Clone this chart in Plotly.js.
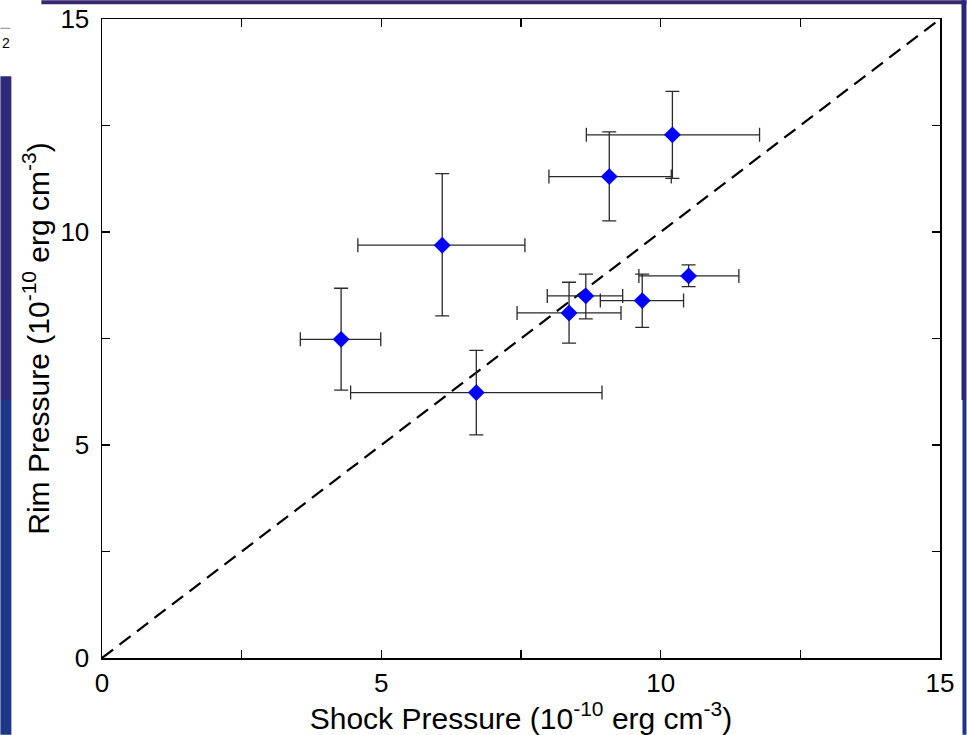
<!DOCTYPE html>
<html>
<head>
<meta charset="utf-8">
<script src="https://cdn.plot.ly/plotly-3.0.1.min.js"></script>
<style>html,body{margin:0;padding:0;background:#fff;}#chart{width:967px;height:735px;}</style>
</head>
<body>
<div id="chart"></div>
<script>
// Data
const shockPressure = [4.28, 6.09, 6.70, 8.36, 8.66, 9.67, 10.50, 9.08, 10.21];
const shockErrLow   = [3.55, 4.58, 4.45, 7.43, 7.97, 8.92, 9.61, 8.00, 8.67];
const shockErrHigh  = [4.99, 7.57, 8.95, 9.29, 9.32, 10.41, 11.40, 10.19, 11.77];
const rimPressure   = [7.48, 9.69, 6.23, 8.10, 8.50, 8.39, 8.97, 11.30, 12.28];
const rimErrLow     = [6.29, 8.03, 5.24, 7.39, 7.96, 7.76, 8.72, 10.26, 11.26];
const rimErrHigh    = [8.68, 11.37, 7.22, 8.82, 9.01, 9.01, 9.23, 12.35, 13.30];
const equalityLine  = [0, 15];
const tickValues    = [0, 5, 10, 15];
const tickLabels    = ['0', '5', '10', '15'];
const minorStep     = 2.5;

const plus  = (hi, v) => hi.map((h, i) => h - v[i]);
const minus = (lo, v) => lo.map((l, i) => v[i] - l);

const traces = [
  {
    x: equalityLine, y: equalityLine, mode: 'lines', type: 'scatter',
    line: {color: '#000', width: 2.2, dash: '14px,8px'}, hoverinfo: 'skip'
  },
  {
    x: shockPressure, y: rimPressure, mode: 'markers', type: 'scatter',
    marker: {symbol: 'diamond', size: 13, color: '#0000ff'},
    error_x: {type: 'data', symmetric: false,
      array: plus(shockErrHigh, shockPressure), arrayminus: minus(shockErrLow, shockPressure),
      color: '#2a2a2a', thickness: 1.3, width: 7},
    error_y: {type: 'data', symmetric: false,
      array: plus(rimErrHigh, rimPressure), arrayminus: minus(rimErrLow, rimPressure),
      color: '#2a2a2a', thickness: 1.3, width: 7}
  }
];

// pixel -> paper helpers for background decorations
const L = 101.7, R = 940.5, T = 18.7, B = 658.3;
const px = v => (v - L) / (R - L);
const py = v => (B - v) / (B - T);

const FONT = 'Liberation Sans, Arial, sans-serif';
const axisCommon = {
  range: [0, 15], tickmode: 'array', tickvals: tickValues, ticktext: tickLabels,
  ticks: 'inside', ticklen: 8, tickwidth: 1.2, tickcolor: '#000',
  minor: {dtick: minorStep, ticks: 'inside', ticklen: 8, tickwidth: 1.2, tickcolor: '#000', showgrid: false},
  showline: true, linecolor: '#000', linewidth: 1.5, mirror: 'ticks',
  showgrid: false, zeroline: false,
  tickfont: {family: FONT, size: 26, color: '#000'}
};

const layout = {
  width: 967, height: 735,
  margin: {l: L, r: 967 - R, t: T, b: 735 - B},
  paper_bgcolor: '#ffffff', plot_bgcolor: '#ffffff',
  showlegend: false,
  xaxis: Object.assign({}, axisCommon, {
    ticklabelstandoff: 1,
    title: {text: 'Shock Pressure (10<sup>-10</sup> erg cm<sup>-3</sup>)',
      font: {family: FONT, size: 30, color: '#000'}, standoff: 4}
  }),
  yaxis: Object.assign({}, axisCommon, {
    ticklabelstandoff: 6,
    title: {text: 'Rim Pressure (10<sup>-10</sup> erg cm<sup>-3</sup>)',
      font: {family: FONT, size: 30, color: '#000'}, standoff: 2}
  }),
  shapes: [
    {type: 'rect', xref: 'paper', yref: 'paper', layer: 'below', line: {width: 0},
     x0: px(41), x1: px(967), y0: py(0), y1: py(4), fillcolor: '#35286f'},
    {type: 'rect', xref: 'paper', yref: 'paper', layer: 'below', line: {width: 0},
     x0: px(0), x1: px(11), y0: py(76), y1: py(400), fillcolor: '#2e2a78'},
    {type: 'rect', xref: 'paper', yref: 'paper', layer: 'below', line: {width: 0},
     x0: px(0), x1: px(11), y0: py(400), y1: py(735), fillcolor: '#1c3785'},
    {type: 'rect', xref: 'paper', yref: 'paper', layer: 'below', line: {width: 0},
     x0: px(962), x1: px(967), y0: py(0), y1: py(400), fillcolor: '#28287a'},
    {type: 'rect', xref: 'paper', yref: 'paper', layer: 'below', line: {width: 0},
     x0: px(963), x1: px(967), y0: py(400), y1: py(735), fillcolor: '#1c3785'},
    {type: 'line', xref: 'paper', yref: 'paper', layer: 'below',
     x0: px(0), x1: px(10), y0: py(28), y1: py(28), line: {color: '#888', width: 1}}
  ],
  annotations: [
    {text: '2', xref: 'paper', yref: 'paper', x: px(0), y: py(43), xanchor: 'left', yanchor: 'middle',
     showarrow: false, font: {family: FONT, size: 14, color: '#000'}}
  ]
};

Plotly.newPlot('chart', traces, layout, {displayModeBar: false, staticPlot: true});
</script>
</body>
</html>
